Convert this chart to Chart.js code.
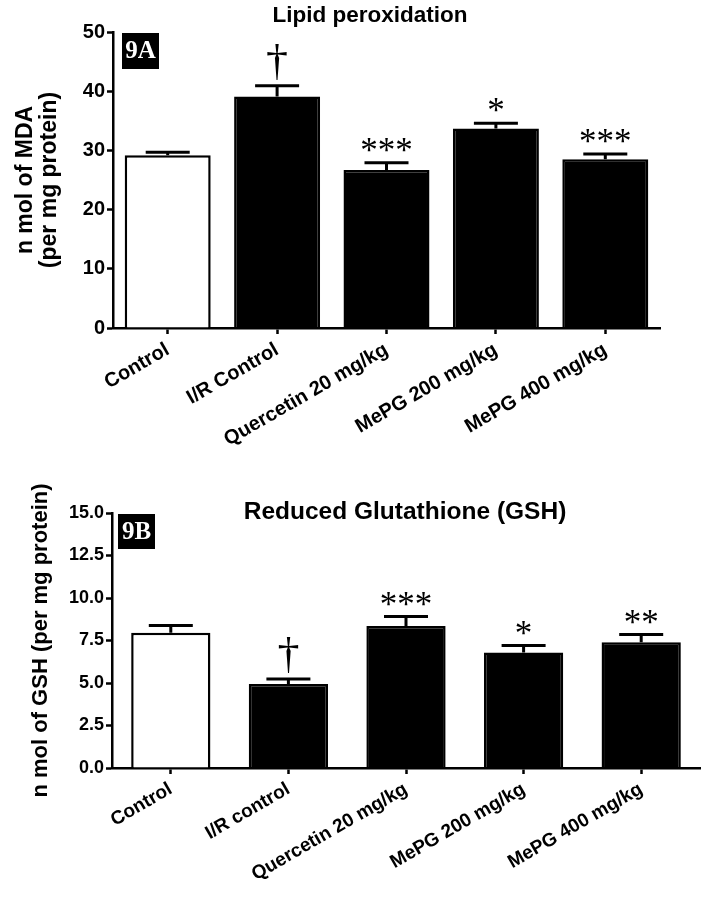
<!DOCTYPE html>
<html>
<head>
<meta charset="utf-8">
<script src="https://cdn.jsdelivr.net/npm/chart.js@4.4.1/dist/chart.umd.min.js"></script>
<style>
  body { margin: 0; background: #fff; }
  #wrap { position: relative; width: 714px; height: 900px; }
  canvas { position: absolute; left: 0; }
  #chartA { top: 0; }
  #chartB { top: 460px; }
</style>
</head>
<body>
<div id="wrap">
  <canvas id="chartA" width="714" height="460"></canvas>
  <canvas id="chartB" width="714" height="440"></canvas>
</div>
<script>
// data (mean and upper SEM)
const groupsA = ["Control", "I/R Control", "Quercetin 20 mg/kg", "MePG 200 mg/kg", "MePG 400 mg/kg"];
const groupsB = ["Control", "I/R control", "Quercetin 20 mg/kg", "MePG 200 mg/kg", "MePG 400 mg/kg"];

const mdaMean = [29.2, 39.1, 26.7, 33.7, 28.5];
const mdaSem = [0.5, 1.8, 1.2, 0.9, 0.9];
const mdaMarks = ["", "\u2020", "***", "*", "***"];
const mdaTicks = [0, 10, 20, 30, 40, 50];

const gshMean = [7.96, 4.94, 8.36, 6.79, 7.40];
const gshSem = [0.42, 0.29, 0.55, 0.41, 0.45];
const gshMarks = ["", "\u2020", "***", "*", "**"];
const gshTicks = [0, 2.5, 5, 7.5, 10, 12.5, 15];

const barFill = ["#ffffff", "#000000", "#000000", "#000000", "#000000"];

const sans = "'Liberation Sans', Arial, Helvetica, sans-serif";
const serif = "'Liberation Serif', 'Times New Roman', serif";

// error bars, significance marks, panel tag and title
const extras = {
  id: "extras",
  afterDatasetsDraw(chart, args, opts) {
    const ctx = chart.ctx;
    const y = chart.scales.y;
    const meta = chart.getDatasetMeta(0);
    const means = chart.data.datasets[0].data;
    ctx.save();
    ctx.strokeStyle = "#000";
    ctx.fillStyle = "#000";
    ctx.lineWidth = 3;
    meta.data.forEach((bar, i) => {
      const top = y.getPixelForValue(means[i] + opts.sem[i]);
      ctx.beginPath();
      ctx.moveTo(bar.x, bar.y);
      ctx.lineTo(bar.x, top);
      ctx.moveTo(bar.x - 22, top);
      ctx.lineTo(bar.x + 22, top);
      ctx.stroke();

      const mark = opts.marks[i];
      if (!mark) return;
      ctx.textAlign = "center";
      ctx.textBaseline = "alphabetic";
      if (mark === "\u2020") {
        ctx.font = "44px " + serif;
        const m = ctx.measureText(mark);
        ctx.fillText(mark, bar.x, top - 6 - m.actualBoundingBoxDescent);
      } else {
        ctx.font = "35px " + serif;
        const m = ctx.measureText(mark);
        const cy = top - 18;
        ctx.fillText(mark, bar.x, cy + (m.actualBoundingBoxAscent - m.actualBoundingBoxDescent) / 2);
      }
    });

    // panel tag
    const t = opts.tag;
    ctx.fillRect(t.x, t.y, t.w, t.h);
    ctx.fillStyle = "#fff";
    ctx.font = "bold 25px " + serif;
    ctx.textAlign = "center";
    ctx.textBaseline = "middle";
    ctx.fillText(t.text, t.x + t.w / 2, t.y + t.h / 2 + 1);

    // title
    ctx.fillStyle = "#000";
    ctx.font = "bold " + opts.title.size + "px " + sans;
    ctx.fillText(opts.title.text, opts.title.x, opts.title.y);
    ctx.restore();
  }
};

function axisStyle() {
  return {
    grid: { display: true, drawOnChartArea: false, drawTicks: true, tickLength: 6, tickWidth: 2.5, tickColor: "#000", offset: false },
    border: { display: true, color: "#000", width: 2.5 }
  };
}

function makeChart(id, labels, means, sem, marks, ticks, cfg) {
  return new Chart(document.getElementById(id), {
    type: "bar",
    data: {
      labels: labels,
      datasets: [{
        data: means,
        backgroundColor: barFill,
        borderColor: "#000",
        borderWidth: 2.5,
        categoryPercentage: 1,
        barPercentage: cfg.barPct
      }]
    },
    options: {
      responsive: false,
      animation: false,
      devicePixelRatio: 1,
      layout: { padding: cfg.padding },
      plugins: {
        legend: { display: false },
        tooltip: { enabled: false },
        extras: { sem: sem, marks: marks, tag: cfg.tag, title: cfg.title }
      },
      scales: {
        x: {
          ...axisStyle(),
          ticks: {
            color: "#000",
            autoSkip: false,
            minRotation: 30,
            maxRotation: 30,
            padding: 4,
            font: { family: sans, size: cfg.xFont, weight: "bold" }
          },
          afterFit(s) { s.height = cfg.xHeight; }
        },
        y: {
          ...axisStyle(),
          min: ticks[0],
          max: ticks[ticks.length - 1],
          afterBuildTicks(s) { s.ticks = ticks.map(v => ({ value: v })); },
          ticks: {
            color: "#000",
            padding: 2,
            font: { family: sans, size: cfg.yFont, weight: "bold" },
            callback: cfg.fmt
          },
          title: {
            display: true,
            text: cfg.yTitle,
            color: "#000",
            font: { family: sans, size: cfg.yTitleSize, weight: "bold", lineHeight: cfg.yTitleLH },
            padding: { top: cfg.yTitlePad, bottom: 0 }
          },
          afterFit(s) { s.width = cfg.yWidth; }
        }
      }
    },
    plugins: [extras]
  });
}

makeChart("chartA", groupsA, mdaMean, mdaSem, mdaMarks, mdaTicks, {
  barPct: 0.786,
  padding: { left: 0, right: 54, top: 32, bottom: 0 },
  xHeight: 132,
  yWidth: 113,
  xFont: 20,
  yFont: 20,
  fmt: v => String(v),
  yTitle: ["n mol of MDA", "(per mg protein)"],
  yTitleSize: 23,
  yTitleLH: 1.07,
  yTitlePad: 13,
  tag: { x: 122, y: 33, w: 37, h: 36, text: "9A" },
  title: { text: "Lipid peroxidation", x: 370, y: 16, size: 22.5 }
});

makeChart("chartB", groupsB, gshMean, gshSem, gshMarks, gshTicks, {
  barPct: 0.674,
  padding: { left: 0, right: 14, top: 53, bottom: 0 },
  xHeight: 132,
  yWidth: 112,
  xFont: 19,
  yFont: 18,
  fmt: v => Number(v).toFixed(1),
  yTitle: "n mol of GSH (per mg protein)",
  yTitleSize: 22,
  yTitleLH: 1.2,
  yTitlePad: 28,
  tag: { x: 118, y: 54, w: 37, h: 35, text: "9B" },
  title: { text: "Reduced Glutathione (GSH)", x: 405, y: 52, size: 24.5 }
});
</script>
</body>
</html>
